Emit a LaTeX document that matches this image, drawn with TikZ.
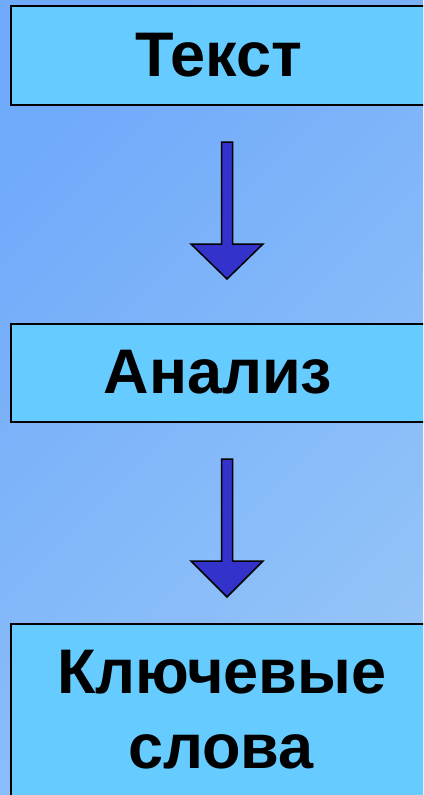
\documentclass[tikz,border=0pt]{standalone}
\usepackage{fontspec}
\setmainfont{Liberation Sans}
\usetikzlibrary{calc}

\definecolor{bgtop}{HTML}{70AAFA}
\definecolor{bgbottom}{HTML}{94C4F8}
\definecolor{boxfill}{HTML}{66CCFF}
\definecolor{arrowfill}{HTML}{3333CC}

\tikzset{
    stepbox/.style   = {draw = black, line width = 1.8pt, fill = boxfill, anchor = north west, inner sep = 0pt},
    steptext/.style  = {font = \fontsize{63}{75}\selectfont\bfseries, anchor = base},
    flowarrow/.style = {draw = black, line width = 1.5pt, fill = arrowfill, line join = miter},
}

% block arrow from top point #1 to tip #2
\newcommand{\flowarrow}[2]{%
    \filldraw[flowarrow] ($(#1)+(-5.5,0)$) -- ($(#1)+(-5.5,102)$) -- ($(#1)+(-36,102)$)
        -- (#2) -- ($(#1)+(36,102)$) -- ($(#1)+(5.5,102)$) -- ($(#1)+(5.5,0)$) -- cycle;}

\begin{document}
\begin{tikzpicture}[x=1pt, y=-1pt]
    % background
    \shade[top color = bgtop, bottom color = bgbottom, shading angle = 45]
        (0,0) rectangle (423,795);
    \useasboundingbox (0,0) rectangle (423,795);

    \begin{scope}
        \clip (0,0) rectangle (423,795);

        \node[stepbox, minimum width = 420pt, minimum height = 99pt]  (tekst)  at (10, 5)   {};
        \node[stepbox, minimum width = 420pt, minimum height = 98pt]  (analiz) at (10, 323) {};
        \node[stepbox, minimum width = 420pt, minimum height = 190pt] (slova)  at (10, 623) {};

        \node[steptext] (tekstlbl)  at (219, 76)  {Текст};
        \node[steptext] (analizlbl) at (218, 393) {Анализ};
        \node[steptext] (slova1)    at (222, 693) {Ключевые};
        \node[steptext] (slova2)    at (221, 768) {слова};

        \coordinate (top1) at (227, 142);
        \coordinate (tip1) at (227, 279);
        \coordinate (top2) at (227, 459);
        \coordinate (tip2) at (227, 597);

        \flowarrow{top1}{tip1}   % Текст -> Анализ
        \flowarrow{top2}{tip2}   % Анализ -> Ключевые слова
    \end{scope}
\end{tikzpicture}
\end{document}
